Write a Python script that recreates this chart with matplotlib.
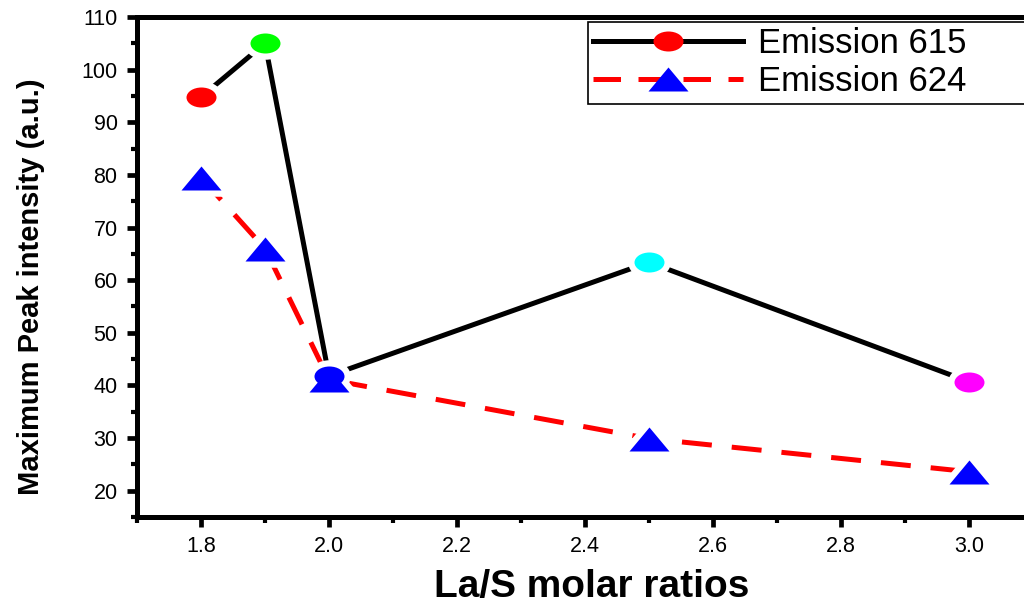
import matplotlib
matplotlib.use("Agg")
import matplotlib.pyplot as plt
from matplotlib.path import Path
from matplotlib.transforms import Affine2D
from matplotlib.lines import Line2D
from matplotlib.ticker import MultipleLocator

plt.rcParams['font.family'] = ['Liberation Sans', 'DejaVu Sans']

# Data
ratios = [1.8, 1.9, 2.0, 2.5, 3.0]
em615 = [94.8, 105.0, 41.8, 63.4, 40.7]
em624 = [79.5, 66.0, 41.1, 29.9, 23.6]
colors615 = ['#ff0000', '#00ff00', '#0000ff', '#00ffff', '#ff00ff']
labels = ['Emission 615', 'Emission 624']
xlabel = 'La/S molar ratios'
ylabel = 'Maximum Peak intensity (a.u.)'
xticks = [1.8, 2.0, 2.2, 2.4, 2.6, 2.8, 3.0]
yticks = [20, 30, 40, 50, 60, 70, 80, 90, 100, 110]

ellipse = Path.unit_circle().transformed(Affine2D().scale(1.5, 1.0))
tri = Path([(-1.0, -0.6), (1.0, -0.6), (0.0, 0.6), (-1.0, -0.6)],
           [Path.MOVETO, Path.LINETO, Path.LINETO, Path.CLOSEPOLY])

fig = plt.figure(figsize=(10.24, 6.03), dpi=100)
ax = fig.add_axes([137/1024, 1-517/603, 896/1024, 500/603])

lw = 3.6
dash = (0, (6, 4))
ax.plot(ratios, em615, color='black', lw=lw, zorder=2, solid_capstyle='butt')
ax.plot(ratios, em624, color='#ff0000', lw=lw, ls=dash, zorder=2,
        dash_capstyle='butt')

# white halos for gaps between lines and markers
ax.plot(ratios, em615, ls='none', marker=ellipse, ms=21.6, mfc='white',
        mec='white', mew=9, zorder=3)
ax.plot(ratios, em624, ls='none', marker=tri, ms=28.8, mfc='white',
        mec='white', mew=9, zorder=3)

for x, y, c in zip(ratios, em615, colors615):
    ax.plot([x], [y], ls='none', marker=ellipse, ms=21.6, mfc=c, mec=c,
            mew=0, zorder=4)
ax.plot(ratios, em624, ls='none', marker=tri, ms=28.8, mfc='#0000ff',
        mec='#0000ff', mew=0, zorder=5)

ax.set_xlim(1.7, 3.1)
ax.set_ylim(15, 110)
ax.set_xticks(xticks)
ax.set_xticklabels([f'{v:.1f}' for v in xticks])
ax.set_yticks(yticks)
ax.set_yticklabels([str(v) for v in yticks])
ax.xaxis.set_minor_locator(MultipleLocator(0.1))
ax.yaxis.set_minor_locator(MultipleLocator(5))

for s in ax.spines.values():
    s.set_linewidth(3.6)
ax.tick_params(which='major', direction='out', length=7, width=3.4,
               labelsize=15.5, pad=7)
ax.tick_params(which='minor', direction='out', length=4, width=3.0)
ax.tick_params(top=False, right=False)

ax.set_xlabel(xlabel, fontsize=28, fontweight='bold')
ax.xaxis.set_label_coords((592 - 137) / 896, (517 - 597) / 500)
ax.xaxis.label.set_va('baseline')
ax.set_ylabel(ylabel, fontsize=21, fontweight='bold')
ax.yaxis.set_label_coords((31 - 137) / 896, (517 - 287) / 500)
ax.yaxis.label.set_va('center')

handles = [
    Line2D([], [], color='black', lw=lw, marker=ellipse, ms=21.6,
           mfc='#ff0000', mec='#ff0000', mew=0),
    Line2D([], [], color='#ff0000', lw=lw, ls=(0, (5.5, 3.5)), marker=tri,
           ms=28.8, mfc='#0000ff', mec='#0000ff', mew=0),
]
x0 = (588 - 137) / 896
y1 = 1 - (22 - 17) / 500
leg = ax.legend(handles, labels, loc='upper left',
                bbox_to_anchor=(x0, y1 - 0.2, 1.0 - x0, 0.2), mode='expand',
                fontsize=25, frameon=True, fancybox=False, framealpha=1,
                edgecolor='black', handlelength=4.3, handletextpad=0.45,
                borderpad=0.15, labelspacing=0.15, borderaxespad=0)
leg.get_frame().set_linewidth(1.2)

fig.savefig('out.png', dpi=100)
